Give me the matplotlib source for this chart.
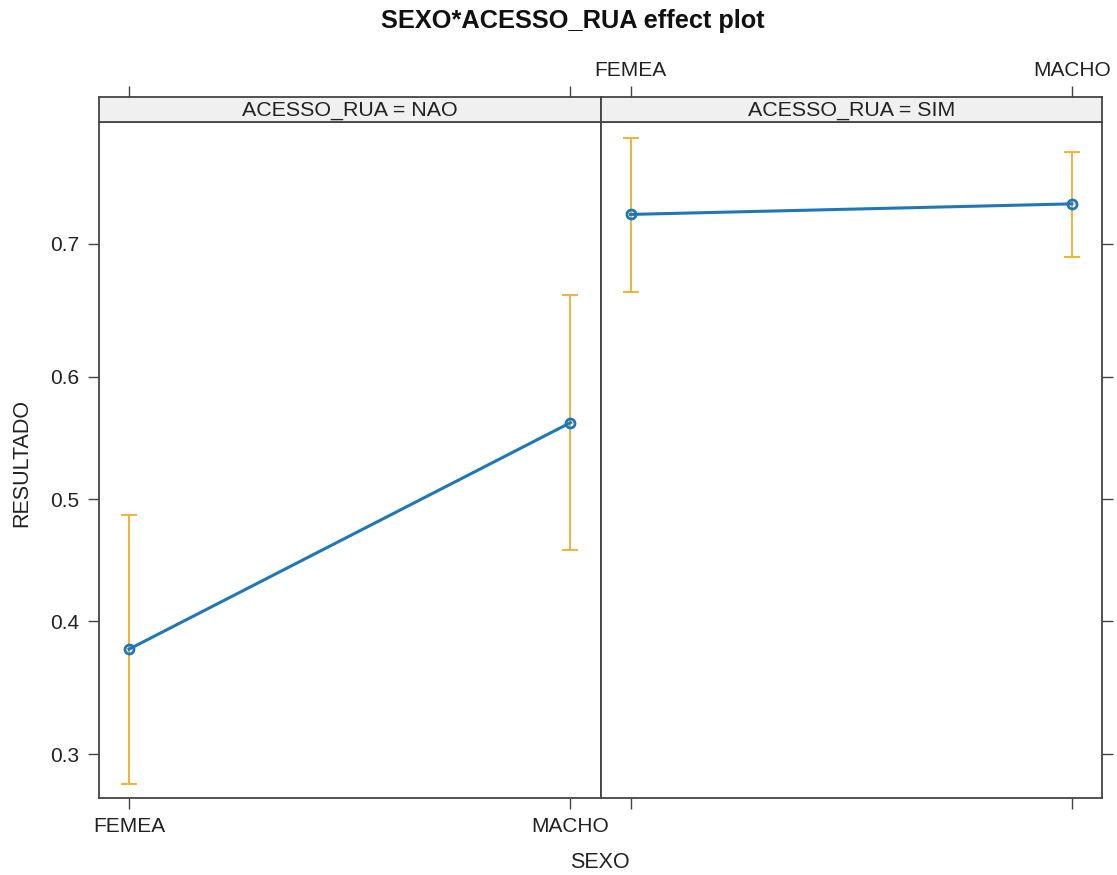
import matplotlib
matplotlib.use("Agg")
import matplotlib.pyplot as plt
from matplotlib.ticker import FixedLocator, FixedFormatter, NullLocator
import numpy as np

plt.rcParams['font.family'] = ['Liberation Sans', 'DejaVu Sans']

# effect estimates
sexo = ["FEMEA", "MACHO"]
panels = ["ACESSO_RUA = NAO", "ACESSO_RUA = SIM"]
fit = [[0.378, 0.563], [0.720, 0.727]]
lower = [[0.280, 0.458], [0.665, 0.691]]
upper = [[0.487, 0.663], [0.768, 0.760]]
yticks = [0.3, 0.4, 0.5, 0.6, 0.7]

line_col = '#1f77b8'
ci_col = '#f2b13a'
frame_col = '#444444'

W, H = 1117, 875
fig = plt.figure(figsize=(W / 100, H / 100), dpi=100)

left, right = 99, 1102
mid = 600.5
bot, strip_bot, strip_top = 798, 122, 97

def fx(px):
    return px / W

def fy(py):
    return 1 - py / H

xlim = (-0.0682, 1.0682)
ylim = (0.2705, 0.7775)

axes = []
for i in range(2):
    x0 = left if i == 0 else mid
    x1 = mid if i == 0 else right
    ax = fig.add_axes([fx(x0), fy(bot), fx(x1 - x0), fy(strip_bot) - fy(bot)])
    ax.set_yscale('logit')
    ax.set_xlim(*xlim)
    ax.set_ylim(*ylim)
    x = np.arange(len(sexo))
    ax.vlines(x, lower[i], upper[i], color=ci_col, lw=1.4, zorder=2)
    ax.hlines(lower[i], x - 0.018, x + 0.018, color=ci_col, lw=1.4, zorder=2)
    ax.hlines(upper[i], x - 0.018, x + 0.018, color=ci_col, lw=1.4, zorder=2)
    ax.plot(x, fit[i], color=line_col, lw=2.2, zorder=3)
    ax.plot(x, fit[i], 'o', mfc='none', mec=line_col, mew=2.0, ms=6.5, zorder=4)

    for s in ax.spines.values():
        s.set_color(frame_col)
        s.set_linewidth(1.3)

    ax.xaxis.set_major_locator(FixedLocator(x))
    ax.xaxis.set_minor_locator(NullLocator())
    ax.yaxis.set_major_locator(FixedLocator(yticks))
    ax.yaxis.set_minor_locator(NullLocator())
    ax.yaxis.set_major_formatter(FixedFormatter([f"{v:.1f}" for v in yticks]))
    ax.tick_params(axis='both', direction='out', length=8, width=1.0,
                   color=frame_col, labelsize=15, pad=6, labelcolor='#222222')
    if i == 0:
        ax.set_xticklabels(sexo)
        ax.tick_params(axis='y', left=True, right=False, labelleft=True)
    else:
        ax.set_xticklabels([])
        ax.tick_params(axis='y', left=False, right=True, labelleft=False, labelright=False)
    axes.append(ax)

    # strip on top
    st = fig.add_axes([fx(x0), fy(strip_bot), fx(x1 - x0), fy(strip_top) - fy(strip_bot)])
    st.set_facecolor('#f0f0f0')
    st.set_xlim(*xlim)
    st.set_ylim(0, 1)
    st.set_yticks([])
    st.xaxis.set_major_locator(FixedLocator(x))
    st.xaxis.tick_top()
    st.tick_params(axis='x', direction='out', length=8, width=1.0, color=frame_col,
                   labelsize=15, pad=4, labelcolor='#222222')
    if i == 1:
        st.set_xticklabels(sexo)
    else:
        st.set_xticklabels([])
    for s in st.spines.values():
        s.set_color(frame_col)
        s.set_linewidth(1.3)
    st.text(0.5, 0.45, panels[i], transform=st.transAxes, ha='center', va='center',
            fontsize=15.4, color='#222222')

fig.text(fx(573), fy(21), "SEXO*ACESSO_RUA effect plot",
         ha='center', va='center', fontsize=18.3, fontweight='bold', color='#111111')
fig.text(fx(600), fy(862), "SEXO", ha='center', va='center', fontsize=15.5, color='#222222')
fig.text(fx(22), fy(463), "RESULTADO", ha='center', va='center', rotation=90,
         fontsize=15.5, color='#222222')

fig.savefig("out.png", dpi=100)
